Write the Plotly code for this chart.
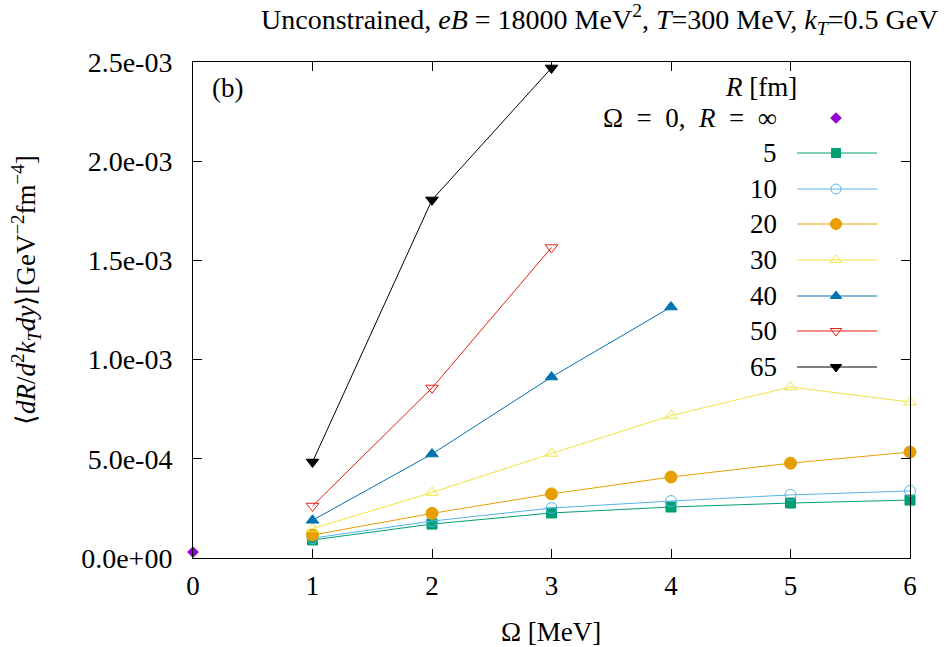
import plotly.graph_objects as go

# ---------------- data ----------------
omega = [1, 2, 3, 4, 5, 6]
radii_labels = ["5", "10", "20", "30", "40", "50", "65"]
r5 = [0.091e-3, 0.171e-3, 0.227e-3, 0.257e-3, 0.277e-3, 0.292e-3]
r10 = [0.100e-3, 0.186e-3, 0.252e-3, 0.287e-3, 0.318e-3, 0.338e-3]
r20 = [0.116e-3, 0.225e-3, 0.323e-3, 0.408e-3, 0.478e-3, 0.534e-3]
r30 = [0.148e-3, 0.330e-3, 0.527e-3, 0.718e-3, 0.862e-3, 0.786e-3]
r40 = [0.190e-3, 0.524e-3, 0.912e-3, 1.265e-3]
r50 = [0.262e-3, 0.857e-3, 1.565e-3]
r65 = [0.484e-3, 1.805e-3, 2.470e-3]
omega0_x = [0]
omega0_y = [0.030e-3]

ytick_vals = [0, 0.5e-3, 1.0e-3, 1.5e-3, 2.0e-3, 2.5e-3]
ytick_text = ["0.0e+00", "5.0e-04", "1.0e-03", "1.5e-03", "2.0e-03", "2.5e-03"]
xtick_vals = [0, 1, 2, 3, 4, 5, 6]

series = [
    (r5, "#009E73", "square", 10),
    (r10, "#56B4E9", "circle-open", 11),
    (r20, "#E69F00", "circle", 12),
    (r30, "#F0E442", "triangle-up-open", 11),
    (r40, "#0072B2", "triangle-up", 11),
    (r50, "#E51E10", "triangle-down-open", 11),
    (r65, "#000000", "triangle-down", 11),
]

FONT = "Liberation Serif"
FS = 27
W, H = 947, 647
L, R, T, B = 193, 37, 62, 89
PW, PH = W - L - R, H - T - B


def px(x):
    return (x - L) / PW


def py(y):
    return (H - B - y) / PH


fig = go.Figure()

fig.add_trace(go.Scatter(x=omega0_x, y=omega0_y, mode="markers",
                         marker=dict(symbol="diamond", size=9, color="#9400D3"),
                         cliponaxis=False, showlegend=False))

for vals, col, sym, sz in series:
    fig.add_trace(go.Scatter(
        x=omega[:len(vals)], y=vals, mode="lines+markers",
        line=dict(color=col, width=1),
        marker=dict(symbol=sym, size=sz, color=col,
                    line=dict(color=col, width=1)),
        cliponaxis=False, showlegend=False))

# ---------------- custom legend ----------------
row_y = [153, 189, 224, 260, 296, 331, 367]
mk_x = px(836)
lx0, lx1 = px(797), px(877)
txt_x = px(779)
annotations = [
    dict(x=px(761), y=py(87), xref="paper", yref="paper", text="<i>R</i> [fm]",
         showarrow=False, xanchor="center", yanchor="middle",
         font=dict(family=FONT, size=FS, color="black")),
    dict(x=txt_x, y=py(118), xref="paper", yref="paper",
         text="Ω\u2002=\u20020,\u2002<i>R</i>\u2002=\u2002∞", showarrow=False,
         xanchor="right", yanchor="middle",
         font=dict(family=FONT, size=FS, color="black")),
]
fig.add_trace(go.Scatter(x=[mk_x], y=[py(118)], xaxis="x2", yaxis="y2",
                         mode="markers",
                         marker=dict(symbol="diamond", size=9, color="#9400D3"),
                         cliponaxis=False, showlegend=False))
shapes = []
for (vals, col, sym, sz), lab, yy in zip(series, radii_labels, row_y):
    annotations.append(dict(x=txt_x, y=py(yy), xref="paper", yref="paper",
                            text=lab, showarrow=False, xanchor="right",
                            yanchor="middle",
                            font=dict(family=FONT, size=FS, color="black")))
    shapes.append(dict(type="line", xref="paper", yref="paper",
                       x0=lx0, x1=lx1, y0=py(yy), y1=py(yy),
                       line=dict(color=col, width=1)))
    fig.add_trace(go.Scatter(x=[mk_x], y=[py(yy)], xaxis="x2", yaxis="y2",
                             mode="markers",
                             marker=dict(symbol=sym, size=sz - 1, color=col,
                                         line=dict(color=col, width=1)),
                             cliponaxis=False, showlegend=False))

# title & axis titles
annotations.append(dict(x=px(940), y=py(20), xref="paper", yref="paper",
                        xanchor="right", yanchor="middle", showarrow=False,
                        text="Unconstrained, <i>eB</i> = 18000 MeV<sup>2</sup>, "
                             "<i>T</i>=300 MeV, <i>k<sub>T</sub></i>=0.5 GeV",
                        font=dict(family=FONT, size=FS + 1, color="black")))
annotations.append(dict(x=px(551), y=py(632), xref="paper", yref="paper",
                        xanchor="center", yanchor="middle", showarrow=False,
                        text="Ω [MeV]",
                        font=dict(family=FONT, size=FS, color="black")))
annotations.append(dict(x=px(26), y=py(290), xref="paper", yref="paper",
                        xanchor="center", yanchor="middle", showarrow=False,
                        textangle=-90,
                        text="⟨<i>dR</i>/<i>d</i><sup>2</sup><i>k<sub>T</sub>dy</i>⟩"
                             "[GeV<sup>−2</sup>fm<sup>−4</sup>]",
                        font=dict(family=FONT, size=FS, color="black")))
annotations.append(dict(x=px(210), y=py(88), xref="paper", yref="paper",
                        xanchor="left", yanchor="middle", showarrow=False,
                        text="(b)",
                        font=dict(family=FONT, size=FS, color="black")))

fig.update_layout(
    width=W, height=H,
    margin=dict(l=L, r=R, t=T, b=B),
    paper_bgcolor="white", plot_bgcolor="white",
    font=dict(family=FONT, size=FS, color="black"),
    xaxis=dict(range=[0, 6], tickvals=xtick_vals, ticks="inside", ticklen=9,
               tickcolor="black", showline=True, linecolor="black",
               linewidth=1, mirror="ticks", showgrid=False, zeroline=False,
               ticklabelstandoff=4,
               tickfont=dict(family=FONT, size=FS)),
    yaxis=dict(range=[0, 2.5e-3], tickvals=ytick_vals, ticktext=ytick_text,
               ticks="inside", ticklen=9, tickcolor="black", showline=True,
               linecolor="black", linewidth=1, mirror="ticks",
               showgrid=False, zeroline=False, ticklabelstandoff=14,
               tickfont=dict(family=FONT, size=FS + 1)),
    xaxis2=dict(range=[0, 1], overlaying="x", visible=False),
    yaxis2=dict(range=[0, 1], overlaying="y", visible=False),
    annotations=annotations,
    shapes=shapes,
    showlegend=False,
)

fig.write_html("out.html",
               config={"displayModeBar": False},
               post_script="document.body.style.margin='0px';")
